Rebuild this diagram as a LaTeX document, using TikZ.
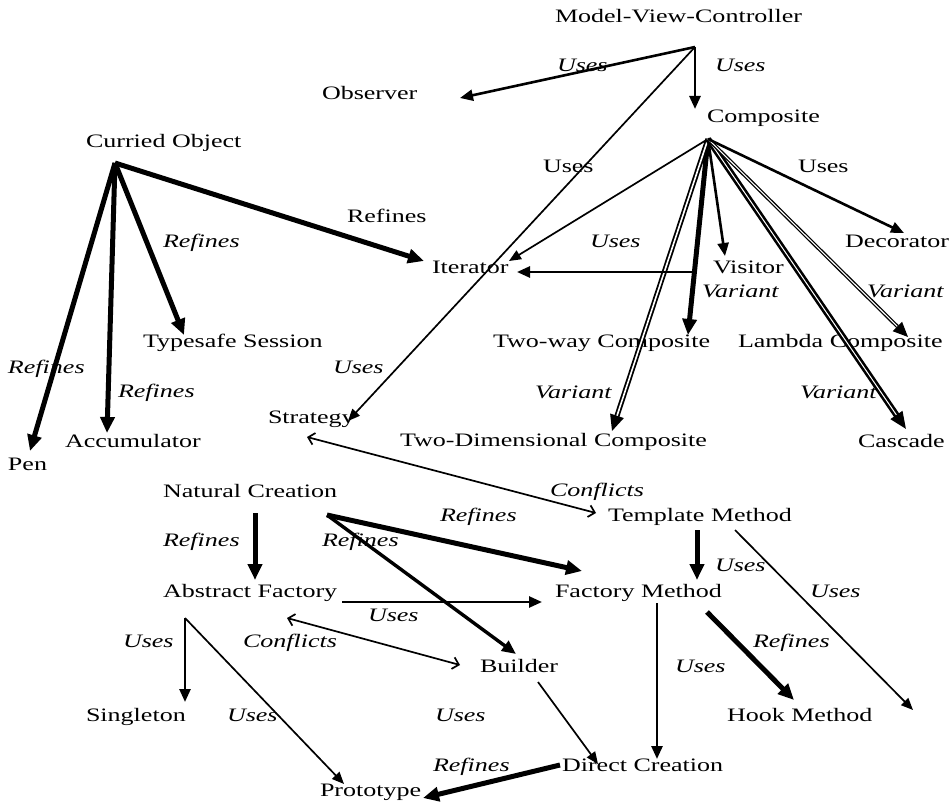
\documentclass[tikz,border=0pt]{standalone}
\usepackage{fontspec}
\setmainfont{Liberation Serif}[FakeStretch=1.37]
\usetikzlibrary{arrows.meta}
\begin{document}
\begin{tikzpicture}[x=1pt,y=-1pt,
  every node/.style={inner sep=0pt, outer sep=0pt, anchor=base west, font=\fontsize{19}{22}\selectfont},
  lab/.style={font=\fontsize{19}{22}\selectfont\itshape},
  heavy/.style={line width=5pt, -{Triangle[length=16pt,width=14pt]}},
  mid/.style={line width=2.6pt, -{Triangle[length=13pt,width=11pt]}},
  fine/.style={line width=1.7pt, -{Triangle[length=12pt,width=10pt]}},
  conf/.style={line width=1.7pt, {Straight Barb[length=6pt,width=12pt,line width=1.7pt]}-{Straight Barb[length=6pt,width=12pt,line width=1.7pt]}},
  dblA/.style={double, line width=1.8pt, double distance=1.6pt, -{Triangle[length=16pt,width=14pt]}},
  dblB/.style={double, line width=1.3pt, double distance=1.1pt, -{Triangle[length=15pt,width=13pt]}},
  dblC/.style={double, line width=2.6pt, double distance=1pt, -{Triangle[length=17pt,width=14pt]}}
]
\useasboundingbox (0,0) rectangle (951,805);

% pattern names
\node (mvc) at (555,23) {Model-View-Controller};
\node (obs) at (322,100) {Observer};
\node (comp) at (707,123) {Composite};
\node (cur) at (86,148) {Curried Object};
\node (iter) at (432,273) {Iterator};
\node (dec) at (845,248) {Decorator};
\node (vis) at (713,273) {Visitor};
\node (tss) at (143,347) {Typesafe Session};
\node (twc) at (493,347) {Two-way Composite};
\node (lam) at (738,347) {Lambda Composite};
\node (str) at (268,423) {Strategy};
\node (acc) at (65,447) {Accumulator};
\node (tdc) at (400,446) {Two-Dimensional Composite};
\node (cas) at (858,447) {Cascade};
\node (pen) at (8,470) {Pen};
\node (nat) at (163,497) {Natural Creation};
\node (tm) at (608,521) {Template Method};
\node (af) at (163,597) {Abstract Factory};
\node (fm) at (555,597) {Factory Method};
\node (bld) at (480,672) {Builder};
\node (sing) at (86,721) {Singleton};
\node (hook) at (727,721) {Hook Method};
\node (dc) at (562,771) {Direct Creation};
\node (proto) at (320,796) {Prototype};

% connector ports
\coordinate (mvcO) at (695,47);
\coordinate (obsIn) at (460,98);
\coordinate (compIn) at (695,109);
\coordinate (strIn) at (348,421);
\coordinate (compO) at (708,139);
\coordinate (iterIn1) at (509,261);
\coordinate (visIn) at (725,256);
\coordinate (twcIn) at (688,335);
\coordinate (tdcIn) at (612,431);
\coordinate (casIn) at (906,429);
\coordinate (lamIn) at (908,337);
\coordinate (decIn) at (904,233);
\coordinate (visO) at (692,272);
\coordinate (iterIn2) at (517,272);
\coordinate (curO) at (115,163);
\coordinate (penIn) at (30,451);
\coordinate (accIn) at (107,433);
\coordinate (tssIn) at (184,335);
\coordinate (iterIn3) at (424,261);
\coordinate (strC) at (307,437);
\coordinate (tmC) at (596,513);
\coordinate (natO1) at (255,513);
\coordinate (afIn) at (255,580);
\coordinate (natO2) at (327,515);
\coordinate (fmIn1) at (582,571);
\coordinate (bldIn) at (516,654);
\coordinate (afO) at (342,602);
\coordinate (fmIn2) at (542,602);
\coordinate (afC) at (287,618);
\coordinate (bldC) at (460,665);
\coordinate (afO2) at (185,618);
\coordinate (singIn) at (185,702);
\coordinate (protoIn) at (344,784);
\coordinate (tmO) at (697,530);
\coordinate (fmIn3) at (697,580);
\coordinate (tmO2) at (735,530);
\coordinate (freeEnd) at (913,710);
\coordinate (fmO) at (707,612);
\coordinate (hookIn) at (794,700);
\coordinate (fmO2) at (657,603);
\coordinate (dcIn) at (657,759);
\coordinate (bldO) at (538,682);
\coordinate (dcIn2) at (598,764);
\coordinate (dcO) at (560,765);
\coordinate (protoIn2) at (423,798);

% connectors
\draw[mid] (mvcO) -- (obsIn);
\draw[mid] (mvcO) -- (compIn);
\draw[fine] (mvcO) -- (strIn);
\draw[fine] (compO) -- (iterIn1);
\draw[mid] (compO) -- (visIn);
\draw[heavy] (compO) -- (twcIn);
\draw[dblA] (compO) -- (tdcIn);
\draw[dblC] (compO) -- (casIn);
\draw[dblB] (compO) -- (lamIn);
\draw[mid] (compO) -- (decIn);
\draw[mid] (visO) -- (iterIn2);
\draw[heavy] (curO) -- (penIn);
\draw[heavy] (curO) -- (accIn);
\draw[heavy] (curO) -- (tssIn);
\draw[heavy] (curO) -- (iterIn3);
\draw[conf] (strC) -- (tmC);
\draw[heavy] (natO1) -- (afIn);
\draw[heavy] (natO2) -- (fmIn1);
\draw[line width=3.4pt, -{Triangle[length=14pt,width=12pt]}] (natO2) -- (bldIn);
\draw[mid] (afO) -- (fmIn2);
\draw[conf] (afC) -- (bldC);
\draw[mid] (afO2) -- (singIn);
\draw[fine] (afO2) -- (protoIn);
\draw[heavy] (tmO) -- (fmIn3);
\draw[fine] (tmO2) -- (freeEnd);
\draw[heavy] (fmO) -- (hookIn);
\draw[mid] (fmO2) -- (dcIn);
\draw[fine] (bldO) -- (dcIn2);
\draw[heavy] (dcO) -- (protoIn2);

% labels
\node[lab] (l1) at (557,72) {Uses};
\node[lab] (l2) at (715,72) {Uses};
\node (l3) at (543,173) {Uses};
\node (l4) at (798,173) {Uses};
\node (l5) at (347,223) {Refines};
\node[lab] (l6) at (163,248) {Refines};
\node[lab] (l7) at (590,248) {Uses};
\node[lab] (l8) at (702,298) {Variant};
\node[lab] (l9) at (867,298) {Variant};
\node[lab] (l10) at (8,373) {Refines};
\node[lab] (l11) at (333,373) {Uses};
\node[lab] (l12) at (118,397) {Refines};
\node[lab] (l13) at (535,398) {Variant};
\node[lab] (l14) at (800,398) {Variant};
\node[lab] (l15) at (550,496) {Conflicts};
\node[lab] (l16) at (440,521) {Refines};
\node[lab] (l17) at (163,546) {Refines};
\node[lab] (l18) at (322,546) {Refines};
\node[lab] (l19) at (715,571) {Uses};
\node[lab] (l20) at (810,597) {Uses};
\node[lab] (l21) at (368,621) {Uses};
\node[lab] (l22) at (123,647) {Uses};
\node[lab] (l23) at (243,647) {Conflicts};
\node[lab] (l24) at (753,647) {Refines};
\node[lab] (l25) at (675,672) {Uses};
\node[lab] (l26) at (227,721) {Uses};
\node[lab] (l27) at (435,721) {Uses};
\node[lab] (l28) at (433,771) {Refines};
\end{tikzpicture}
\end{document}
